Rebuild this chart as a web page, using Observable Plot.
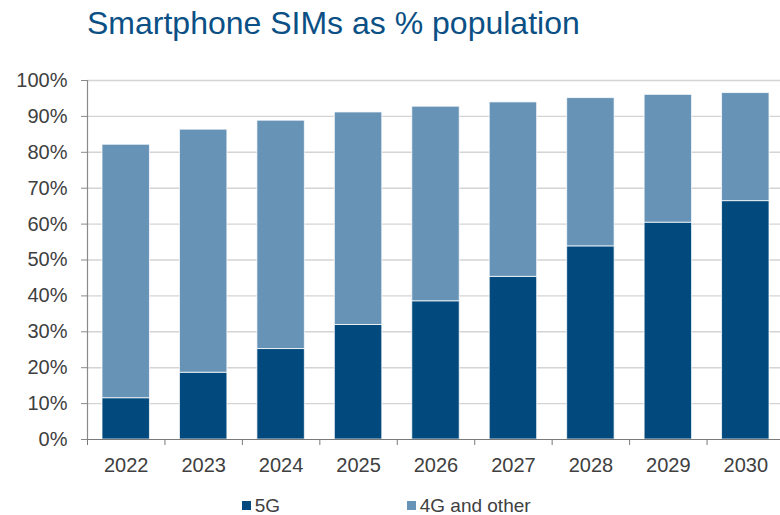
<!DOCTYPE html>
<html>
<head>
<meta charset="utf-8">
<script src="https://cdn.jsdelivr.net/npm/d3@7"></script>
<script src="https://cdn.jsdelivr.net/npm/@observablehq/plot@0.6"></script>
<style>
  html, body { margin: 0; background: #fff; font-family: "Liberation Sans", Arial, sans-serif; overflow: hidden; }
  #wrap { position: relative; width: 780px; height: 515px; }
  #title { height: 50px; box-sizing: border-box; padding: 7px 0 0 87px; font-size: 32px; line-height: 1; color: #0b5085; white-space: nowrap; }
  #legend { position: relative; height: 35px; }
  .item { position: absolute; top: 16.5px; display: flex; align-items: center; font-size: 19px; line-height: 18px; color: #404040; white-space: nowrap; }
  .sw { width: 9px; height: 9px; margin-right: 4px; }
</style>
</head>
<body>
<div id="wrap">
  <div id="title">Smartphone SIMs as % population</div>
  <div id="chart"></div>
  <div id="legend"></div>
</div>
<script>
const years = [2022, 2023, 2024, 2025, 2026, 2027, 2028, 2029, 2030];
const fiveG = [11.5, 18.6, 25.2, 31.9, 38.5, 45.3, 53.8, 60.4, 66.4];
const otherG = [70.6, 67.7, 63.6, 59.2, 54.2, 48.6, 41.3, 35.6, 30.1];
const seriesNames = ["5G", "4G and other"];
const seriesColors = ["#024a7e", "#6793b7"];
const yTicks = [0, 10, 20, 30, 40, 50, 60, 70, 80, 90, 100];

const rows = [];
years.forEach((yr, i) => {
  rows.push({year: yr, series: seriesNames[0], y1: 0, y2: fiveG[i]});
  rows.push({year: yr, series: seriesNames[1], y1: fiveG[i], y2: fiveG[i] + otherG[i]});
});
const boundaries = years.map(y => y - 0.5).concat([years[years.length - 1] + 0.5]);

const chart = Plot.plot({
  width: 780,
  height: 430,
  marginTop: 30,
  marginBottom: 41,
  marginLeft: 87,
  marginRight: -4,
  style: {fontFamily: "Liberation Sans, Arial, sans-serif", fontSize: "20px", color: "#404040", background: "white"},
  x: {type: "linear", domain: [years[0] - 0.5, years[years.length - 1] + 0.5]},
  y: {domain: [0, 100]},
  color: {domain: seriesNames, range: seriesColors},
  marks: [
    Plot.gridY(yTicks.filter(d => d > 0), {stroke: "#d4d4d4", strokeOpacity: 1, strokeWidth: 1.4}),
    Plot.rectY(rows, {
      x1: d => d.year - 0.5, x2: d => d.year + 0.5,
      y1: "y1", y2: "y2",
      fill: "series",
      insetLeft: 15, insetRight: 15,
      stroke: "#ffffff", strokeOpacity: 0.75, strokeWidth: 1
    }),
    Plot.frame({anchor: "left", stroke: "#8a8a8a", strokeWidth: 1.2}),
    Plot.frame({anchor: "bottom", stroke: "#7a7a7a", strokeWidth: 1.2}),
    Plot.axisY({ticks: yTicks, tickFormat: d => d + "%", tickSize: 6, tickPadding: 14, stroke: "#8a8a8a", label: null, fill: "#404040", fontSize: 20}),
    Plot.axisX({ticks: years, tickFormat: d => String(d), tickSize: 0, tickPadding: 18, label: null, fill: "#404040", fontSize: 20}),
    Plot.axisX({ticks: boundaries, tickFormat: () => "", tickSize: 6, stroke: "#7a7a7a", label: null})
  ]
});
document.getElementById("chart").appendChild(chart);

const legend = document.getElementById("legend");
const lefts = [241.7, 406.7];
seriesNames.forEach((name, i) => {
  const it = document.createElement("div");
  it.className = "item";
  it.style.left = lefts[i] + "px";
  const sw = document.createElement("span");
  sw.className = "sw";
  sw.style.background = seriesColors[i];
  const t = document.createElement("span");
  t.textContent = name;
  it.appendChild(sw);
  it.appendChild(t);
  legend.appendChild(it);
});
</script>
</body>
</html>
